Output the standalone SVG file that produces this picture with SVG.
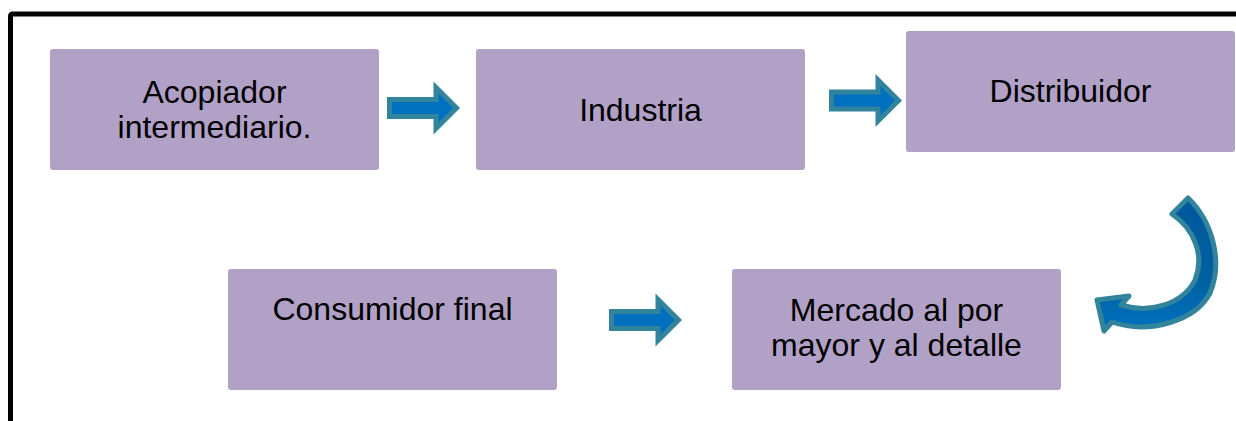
<svg xmlns="http://www.w3.org/2000/svg" width="1236" height="421" viewBox="0 0 1236 421">
  <style>
    .box { fill: #B2A1C7; }
    .lbl { font-family: "Liberation Sans", Arial, sans-serif; font-size: 32px; fill: #000000; text-anchor: middle; }
    .arr { fill: #0070C0; stroke: #31849B; stroke-width: 5; stroke-linejoin: miter; }
  </style>
  <defs>
    <path id="blockArrow" d="M 2.5 -8.5 L 49 -8.5 L 49 -20.5 L 69.5 0 L 49 20.5 L 49 8.5 L 2.5 8.5 Z"/>
    <linearGradient id="curveFill" x1="0" y1="0" x2="0" y2="1">
      <stop offset="0" stop-color="#00599D"/>
      <stop offset="0.6" stop-color="#00609F"/>
      <stop offset="1" stop-color="#0070C0"/>
    </linearGradient>
  </defs>
  <rect width="1236" height="421" fill="#FFFFFF"/>
  <rect x="10.5" y="14" width="1300" height="500" rx="2" fill="none" stroke="#000000" stroke-width="5"/>

  <g id="node-acopiador">
    <rect class="box" x="50" y="49" width="329" height="121" rx="3"/>
    <text class="lbl" x="214.5" y="103">Acopiador</text>
    <text class="lbl" x="214.5" y="138">intermediario.</text>
  </g>
  <g id="node-industria">
    <rect class="box" x="476" y="49" width="329" height="121" rx="3"/>
    <text class="lbl" x="640.5" y="121">Industria</text>
  </g>
  <g id="node-distribuidor">
    <rect class="box" x="906" y="31" width="329" height="121" rx="3"/>
    <text class="lbl" x="1070.5" y="102">Distribuidor</text>
  </g>
  <g id="node-consumidor">
    <rect class="box" x="228" y="269" width="329" height="121" rx="3"/>
    <text class="lbl" x="392.5" y="320">Consumidor final</text>
  </g>
  <g id="node-mercado">
    <rect class="box" x="732" y="269" width="329" height="121" rx="3"/>
    <text class="lbl" x="896.5" y="321">Mercado al por</text>
    <text class="lbl" x="896.5" y="356">mayor y al detalle</text>
  </g>

  <g id="connectors">
    <use href="#blockArrow" class="arr" transform="translate(387,108)"/>
    <use href="#blockArrow" class="arr" transform="translate(829,100.5)"/>
    <use href="#blockArrow" class="arr" transform="translate(609,320)"/>
    <path fill="url(#curveFill)" stroke="#31849B" stroke-width="5" stroke-linejoin="round"
      d="M 1172 214 L 1188 198 C 1213 222, 1223 262, 1210 293 C 1196 320, 1150 335, 1112 322 L 1104 331 L 1097 300 L 1129 296 L 1121 305 C 1150 314, 1183 304, 1195 280 C 1205 255, 1194 229, 1172 214 Z"/>
  </g>
</svg>
